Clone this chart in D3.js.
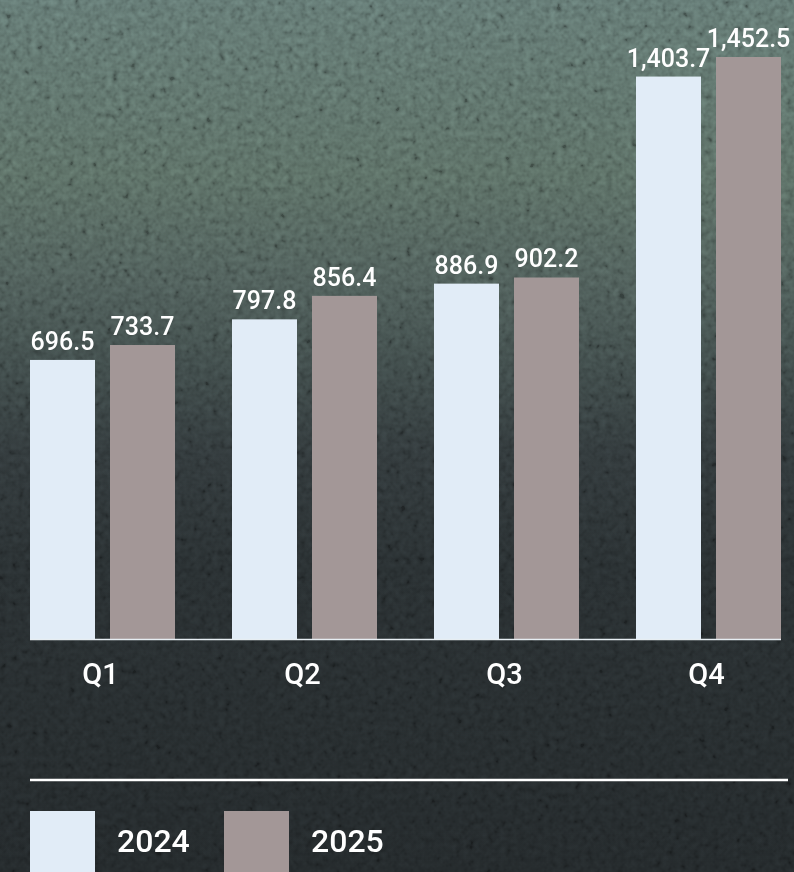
<!DOCTYPE html>
<html>
<head>
<meta charset="utf-8">
<script src="https://cdn.jsdelivr.net/npm/d3@7"></script>
<style>
  html, body { margin: 0; padding: 0; background: #23292b; }
  svg { display: block; }
  text { font-family: Roboto, "Noto Sans", sans-serif; fill: #ffffff; font-weight: 500; }
</style>
</head>
<body>
<svg id="chart" width="794" height="872"></svg>
<script>
// Quarterly values, two years side by side
const quarters = ["Q1", "Q2", "Q3", "Q4"];
const years = ["2024", "2025"];
const values2024 = [696.5, 797.8, 886.9, 1403.7];
const values2025 = [733.7, 856.4, 902.2, 1452.5];
const yearColors = ["#e1ecf7", "#a39797"];

const W = 794, H = 872;
const svg = d3.select("#chart");
const defs = svg.append("defs");

// Background: green-grey at the top fading into dark charcoal
const grad = defs.append("linearGradient")
  .attr("id", "bg").attr("x1", 0).attr("y1", 0).attr("x2", 0).attr("y2", 1);
[[0, "#5d716c"], [0.2, "#56685f"], [0.32, "#4b5955"], [0.42, "#3c4746"],
 [0.52, "#2f3638"], [0.65, "#272d2f"], [1, "#222729"]].forEach(([o, c]) =>
  grad.append("stop").attr("offset", o).attr("stop-color", c));

// Coarse grain texture
const grain = defs.append("filter").attr("id", "grain")
  .attr("x", 0).attr("y", 0).attr("width", "100%").attr("height", "100%");
grain.append("feTurbulence").attr("type", "fractalNoise")
  .attr("baseFrequency", 0.16).attr("numOctaves", 2).attr("seed", 7).attr("result", "n");
grain.append("feColorMatrix").attr("in", "n").attr("type", "matrix")
  .attr("values", "0.33 0.33 0.33 0 0  0.33 0.33 0.33 0 0  0.33 0.33 0.33 0 0  0 0 0 0 1")
  .attr("result", "g");
grain.append("feComponentTransfer").attr("in", "g")
  .call(f => ["feFuncR", "feFuncG", "feFuncB"].forEach(n =>
    f.append(n).attr("type", "linear").attr("slope", 2.4).attr("intercept", -0.7)));

svg.append("rect").attr("width", W).attr("height", H).attr("fill", "url(#bg)");
svg.append("rect").attr("width", W).attr("height", H)
  .attr("filter", "url(#grain)").attr("opacity", 0.25)
  .style("mix-blend-mode", "overlay");

// Scales
const x0 = d3.scaleBand().domain(quarters).range([30, 781]).paddingInner(57 / 202).paddingOuter(0);
const x1 = d3.scaleBand().domain(years).range([0, x0.bandwidth()]).paddingInner(15 / 80).paddingOuter(0);
const y = d3.scaleLinear().domain([0, d3.max(values2025)]).range([639, 57]);

const rows = quarters.map((q, i) => ({
  q, items: [
    { year: years[0], value: values2024[i] },
    { year: years[1], value: values2025[i] }
  ]
}));
const color = d3.scaleOrdinal().domain(years).range(yearColors);
const fmt = d3.format(",.1f");

const groups = svg.append("g").selectAll("g").data(rows).join("g")
  .attr("transform", d => `translate(${x0(d.q)},0)`);

groups.selectAll("rect").data(d => d.items).join("rect")
  .attr("x", d => x1(d.year))
  .attr("y", d => y(d.value))
  .attr("width", x1.bandwidth())
  .attr("height", d => y(0) - y(d.value))
  .attr("fill", d => color(d.year));

groups.selectAll("text").data(d => d.items).join("text")
  .attr("x", d => x1(d.year) + x1.bandwidth() / 2)
  .attr("y", d => y(d.value) - 10)
  .attr("text-anchor", "middle")
  .style("font-size", "25px")
  .text(d => fmt(d.value));

// Baseline
svg.append("line")
  .attr("x1", 30).attr("x2", 781)
  .attr("y1", y(0) + 0.5).attr("y2", y(0) + 0.5)
  .attr("stroke", "#e6edf2").attr("stroke-width", 1.5);

// Category axis
const xAxis = svg.append("g")
  .attr("transform", `translate(0,${y(0)})`)
  .call(d3.axisBottom(x0).tickSize(0).tickPadding(0));
xAxis.select(".domain").remove();
xAxis.selectAll("text")
  .attr("dy", null)
  .attr("y", 45)
  .attr("dx", -2)
  .style("font-size", "29px")
  .style("font-family", "Roboto, sans-serif")
  .style("font-weight", 500)
  .attr("fill", "#ffffff");

// Legend divider
svg.append("line")
  .attr("x1", 30).attr("x2", 788).attr("y1", 780).attr("y2", 780)
  .attr("stroke", "#ffffff").attr("stroke-width", 2.5);

// Legend
const legendX = [30, 224];
const legend = svg.append("g").selectAll("g").data(years).join("g")
  .attr("transform", (d, i) => `translate(${legendX[i]},811)`);
legend.append("rect")
  .attr("width", 65).attr("height", 70)
  .attr("fill", d => color(d));
legend.append("text")
  .attr("x", 87).attr("y", 41)
  .style("font-size", "32px")
  .text(d => d);
</script>
</body>
</html>
